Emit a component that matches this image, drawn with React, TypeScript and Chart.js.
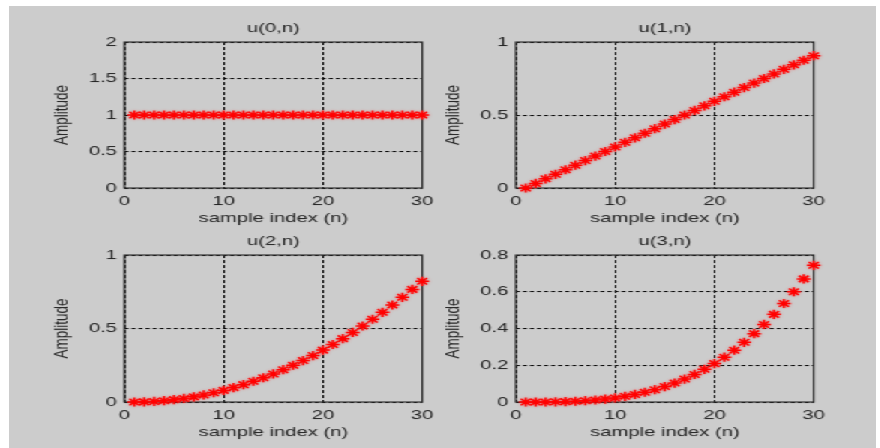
import React, { useEffect, useRef } from "react";
import { Chart, registerables } from "chart.js";

Chart.register(...registerables);

// Sample index n for every panel
const sampleIndex = [
  1, 2, 3, 4, 5, 6, 7, 8, 9, 10, 11, 12, 13, 14, 15,
  16, 17, 18, 19, 20, 21, 22, 23, 24, 25, 26, 27, 28, 29, 30,
];

// u(0,n)
const u0 = [
  1, 1, 1, 1, 1, 1, 1, 1, 1, 1, 1, 1, 1, 1, 1,
  1, 1, 1, 1, 1, 1, 1, 1, 1, 1, 1, 1, 1, 1, 1,
];

// u(1,n)
const u1 = [
  0, 0.031, 0.063, 0.094, 0.125, 0.156, 0.188, 0.219, 0.25, 0.281,
  0.313, 0.344, 0.375, 0.406, 0.438, 0.469, 0.5, 0.531, 0.563, 0.594,
  0.625, 0.656, 0.688, 0.719, 0.75, 0.781, 0.813, 0.844, 0.875, 0.906,
];

// u(2,n)
const u2 = [
  0, 0.001, 0.004, 0.009, 0.016, 0.024, 0.035, 0.048, 0.063, 0.079,
  0.098, 0.118, 0.141, 0.165, 0.191, 0.22, 0.25, 0.282, 0.316, 0.353,
  0.391, 0.431, 0.473, 0.517, 0.563, 0.61, 0.66, 0.712, 0.766, 0.821,
];

// u(3,n)
const u3 = [
  0, 0, 0, 0.001, 0.002, 0.004, 0.007, 0.011, 0.016, 0.022,
  0.031, 0.041, 0.053, 0.067, 0.084, 0.103, 0.125, 0.15, 0.178, 0.209,
  0.244, 0.282, 0.325, 0.372, 0.422, 0.477, 0.536, 0.6, 0.67, 0.744,
];

const panelTitles = ["u(0,n)", "u(1,n)", "u(2,n)", "u(3,n)"];
const yMaxValues = [2, 1, 1, 0.8];
const yStepValues = [0.5, 0.5, 0.5, 0.2];
const xMin = 0;
const xMax = 30;
const xStep = 10;
const xAxisLabel = "sample index (n)";
const yAxisLabel = "Amplitude";

// The figure is drawn narrow and stretched horizontally
const STRETCH = 1.5;
const FONT_FAMILY = "'Liberation Sans', Arial, Helvetica, sans-serif";
const FONT_SIZE = 13.5;
const TEXT_COLOR = "#222222";
const YW = 60; // y-axis block width (labels + title)
const TOP = 34; // room above the plot box for the title
const XH = 40; // x-axis block height (labels + title)
const HALF_LINE = (FONT_SIZE * 1.2) / 2;

type Rect = { l: number; t: number; r: number; b: number };

// Plot boxes in page pixels
const plotRects: Rect[] = [
  { l: 125, t: 42, r: 423, b: 188 },
  { l: 516, t: 42, r: 815, b: 188 },
  { l: 125, t: 255, r: 423, b: 402 },
  { l: 516, t: 255, r: 815, b: 402 },
];

const panelValues = [u0, u1, u2, u3];

const framePlugin = {
  id: "frame",
  beforeDatasetsDraw(chart: any) {
    const { ctx, chartArea: a } = chart;
    ctx.save();
    ctx.strokeStyle = "#2a2a2a";
    ctx.lineWidth = 1.2;
    ctx.strokeRect(a.left, a.top, a.right - a.left, a.bottom - a.top);
    ctx.restore();
  },
  beforeDatasetDraw(chart: any) {
    const ctx = chart.ctx;
    ctx.save();
    ctx.shadowColor = "rgba(255, 60, 60, 0.55)";
    ctx.shadowBlur = 2.5;
  },
  afterDatasetDraw(chart: any) {
    chart.ctx.restore();
  },
  afterDraw(chart: any, _args: any, opts: any) {
    const { ctx, chartArea: a } = chart;
    ctx.save();
    ctx.fillStyle = TEXT_COLOR;
    ctx.font = `${FONT_SIZE}px ${FONT_FAMILY}`;
    ctx.textAlign = "center";
    ctx.textBaseline = "middle";
    ctx.fillText(opts.title, (a.left + a.right) / 2, a.top - 14);
    ctx.restore();
  },
};

function Panel({ index }: { index: number }) {
  const ref = useRef<HTMLCanvasElement>(null);
  const rect = plotRects[index];
  const plotW = (rect.r - rect.l) / STRETCH;
  const left = rect.l / STRETCH - YW;
  const top = rect.t - TOP;
  const width = Math.round(YW + plotW + 12);
  const padRight = width - YW - plotW;
  const height = TOP + (rect.b - rect.t) + XH;

  useEffect(() => {
    const canvas = ref.current;
    if (!canvas) return;
    const values = panelValues[index];
    const font = { family: FONT_FAMILY, size: FONT_SIZE };
    const chart = new Chart(canvas, {
      type: "scatter",
      data: {
        datasets: [
          {
            data: sampleIndex.map((x, i) => ({ x, y: values[i] })),
            pointStyle: "star",
            pointRadius: 4.6,
            pointHoverRadius: 4.6,
            pointBorderColor: "#ff0000",
            pointBackgroundColor: "#ff0000",
            pointBorderWidth: 1.5,
            showLine: false,
            clip: false,
          } as any,
        ],
      },
      options: {
        responsive: false,
        animation: false,
        devicePixelRatio: 1,
        layout: { padding: { top: TOP, right: padRight, left: 0, bottom: 0 } },
        plugins: {
          legend: { display: false },
          tooltip: { enabled: false },
          frame: { title: panelTitles[index] },
        } as any,
        scales: {
          x: {
            type: "linear",
            min: xMin,
            max: xMax,
            ticks: {
              stepSize: xStep,
              padding: 13 - HALF_LINE,
              color: TEXT_COLOR,
              font,
              maxRotation: 0,
            },
            grid: { color: "#000000", lineWidth: 1, drawTicks: false },
            border: { display: false, dash: [3, 2] },
            title: {
              display: true,
              text: xAxisLabel,
              color: TEXT_COLOR,
              font,
              padding: { top: 0, bottom: XH - 30.5 - HALF_LINE },
            },
            afterFit: (s: any) => {
              s.height = XH;
            },
          },
          y: {
            type: "linear",
            min: 0,
            max: yMaxValues[index],
            ticks: {
              stepSize: yStepValues[index],
              padding: 5,
              color: TEXT_COLOR,
              font,
              callback: (v: any) => String(Math.round(Number(v) * 10) / 10),
            },
            grid: { color: "#000000", lineWidth: 1, drawTicks: false },
            border: { display: false, dash: [2.7, 2] },
            title: {
              display: true,
              text: yAxisLabel,
              color: TEXT_COLOR,
              font,
              padding: { top: YW - 41.3 - HALF_LINE, bottom: 0 },
            },
            afterFit: (s: any) => {
              s.width = YW;
            },
          },
        },
      },
      plugins: [framePlugin],
    });
    return () => chart.destroy();
  }, [index]);

  return (
    <canvas
      ref={ref}
      width={width}
      height={height}
      style={{
        position: "absolute",
        left,
        top,
        width,
        height,
      }}
    />
  );
}

export default function App() {
  return (
    <div
      style={{
        position: "absolute",
        left: 0,
        top: 0,
        width: 880,
        height: 448,
        background: "#ffffff",
        overflow: "hidden",
      }}
    >
      <div
        style={{
          position: "absolute",
          left: 9,
          top: 6,
          width: 867,
          height: 442,
          background: "#cccccc",
        }}
      />
      <div
        style={{
          position: "absolute",
          left: 0,
          top: 0,
          width: 880 / STRETCH,
          height: 448,
          transform: `scaleX(${STRETCH})`,
          transformOrigin: "0 0",
        }}
      >
        {panelTitles.map((_, i) => (
          <Panel key={i} index={i} />
        ))}
      </div>
    </div>
  );
}
